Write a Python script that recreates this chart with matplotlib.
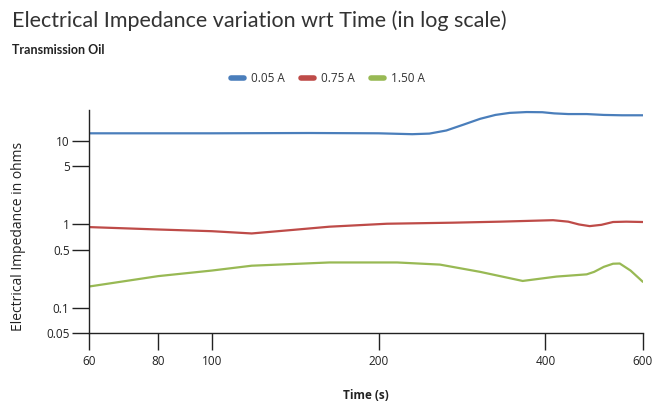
import matplotlib
matplotlib.use('Agg')
import matplotlib.pyplot as plt
from matplotlib.ticker import FixedLocator, FixedFormatter, NullLocator

plt.rcParams['font.family'] = ['Open Sans', 'DejaVu Sans']

# values
time_blue = [60, 100, 150, 200, 230, 247, 265, 285, 305, 325, 345, 370, 395, 415, 440, 475, 510, 550, 600]
imp_blue = [12.4, 12.4, 12.5, 12.4, 12.1, 12.3, 13.4, 15.8, 18.5, 20.6, 21.8, 22.3, 22.2, 21.5, 21.1, 21.1, 20.6, 20.4, 20.4]

time_red = [60, 80, 100, 118, 140, 163, 207, 272, 331, 413, 440, 460, 481, 505, 530, 560, 600]
imp_red = [0.93, 0.87, 0.83, 0.78, 0.86, 0.94, 1.02, 1.05, 1.08, 1.125, 1.08, 1.0, 0.955, 0.99, 1.07, 1.08, 1.07]

time_green = [60, 80, 100, 118, 163, 216, 258, 305, 364, 419, 475, 490, 510, 530, 545, 570, 600]
imp_green = [0.18, 0.24, 0.28, 0.32, 0.35, 0.35, 0.33, 0.27, 0.21, 0.237, 0.252, 0.27, 0.31, 0.338, 0.34, 0.28, 0.205]

series_labels = ['0.05 A', '0.75 A', '1.50 A']
series_colors = ['#4a7ebb', '#be4b48', '#98b954']

x_ticks = [60, 80, 100, 200, 400, 600]
y_ticks = [0.05, 0.1, 0.5, 1, 5, 10]
y_tick_labels = ['0.05', '0.1', '0.5', '1', '5', '10']

fig = plt.figure(figsize=(6.52, 4.05), dpi=100)
ax = fig.add_axes([0.1365, 0.178, 0.8495, 0.55])

series = [(time_blue, imp_blue), (time_red, imp_red), (time_green, imp_green)]
for (t, z), lab, col in zip(series, series_labels, series_colors):
    ax.plot(t, z, color=col, lw=1.6, label=lab, solid_capstyle='round', solid_joinstyle='round')

ax.set_xscale('log')
ax.set_yscale('log')
ax.set_xlim(60, 600)
ax.set_ylim(0.05, 23.5)

ax.xaxis.set_major_locator(FixedLocator(x_ticks))
ax.xaxis.set_major_formatter(FixedFormatter([str(v) for v in x_ticks]))
ax.xaxis.set_minor_locator(NullLocator())
ax.yaxis.set_major_locator(FixedLocator(y_ticks))
ax.yaxis.set_major_formatter(FixedFormatter(y_tick_labels))
ax.yaxis.set_minor_locator(NullLocator())

for s in ['top', 'right']:
    ax.spines[s].set_visible(False)
for s in ['left', 'bottom']:
    ax.spines[s].set_color('#222222')
    ax.spines[s].set_linewidth(1.0)
ax.tick_params(axis='both', length=12, width=1.0, color='#222222', labelsize=8.5, labelcolor='#222222')
ax.tick_params(axis='x', pad=4)
ax.tick_params(axis='y', pad=2)

ax.set_xlabel('Time (s)', fontsize=8.5, fontweight='bold', color='#222222', labelpad=15)
fig.text(0.029, 0.417, 'Electrical Impedance in ohms', rotation=90, fontsize=10,
         color='#222222', ha='center', va='center')

fig.text(0.018, 0.948, 'Electrical Impedance variation wrt Time (in log scale)',
         fontsize=15.5, color='#333333', va='center', family=['Lato', 'DejaVu Sans'])
fig.text(0.018, 0.876, 'Transmission Oil', fontsize=9, fontweight='bold',
         color='#222222', va='center', family=['Lato', 'DejaVu Sans'])

fig.legend(loc='center', bbox_to_anchor=(0.503, 0.805), ncol=3, frameon=False,
           fontsize=8.5, handlelength=1.1, handletextpad=0.6, columnspacing=1.4)
leg = fig.legends[0]
for h in leg.get_lines():
    h.set_linewidth(4)
for t in leg.get_texts():
    t.set_color('#333333')

fig.savefig('out.png', dpi=100)
